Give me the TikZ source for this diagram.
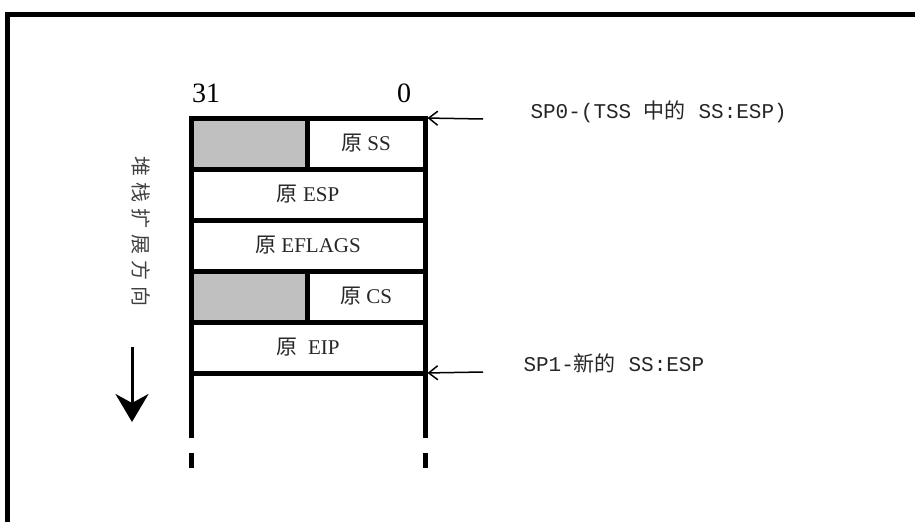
\documentclass[tikz,border=0pt]{standalone}
\usepackage{fontspec}
\setmainfont{Liberation Serif}
\setmonofont{Liberation Mono}
\newfontfamily\cjk{Noto Sans CJK SC}
\newcommand{\zh}[1]{{\cjk #1}}
\usetikzlibrary{arrows.meta}
\definecolor{padgray}{RGB}{192,192,192}

\begin{document}
\begin{tikzpicture}[x=1pt, y=-1pt,
    cell/.style={draw, line width=5pt, inner sep=0pt, outer sep=0pt, minimum height=51pt, text=black!85, font=\fontsize{21}{24}\selectfont},
    wall/.style={line width=5pt},
    ptr/.style={-{Straight Barb[length=9pt,width=14pt]}, line width=1.5pt, shorten >=2.5pt},
    growarrow/.style={-{Stealth[length=28pt,width=33pt,inset=9pt]}, line width=3pt},
    note/.style={anchor=west, text=black!85, font=\fontsize{21}{24}\selectfont\ttfamily}]
    \useasboundingbox (0,0) rectangle (915,522);
    \draw[line width=5pt] (7,522) -- (7,14) -- (915,14);

    % stack frame
    \node[cell, fill=padgray, minimum width=116pt] (pad1) at (249,143.5) {};
    \node[cell, minimum width=118pt] (ss) at (366,143.5) {\zh{原} SS};
    \node[cell, minimum width=234pt] (esp) at (308,194.5) {\zh{原} ESP};
    \node[cell, minimum width=234pt] (eflags) at (308,245.5) {\zh{原} EFLAGS};
    \node[cell, fill=padgray, minimum width=116pt] (pad2) at (249,296.5) {};
    \node[cell, minimum width=118pt] (cs) at (366,296.5) {\zh{原} CS};
    \node[cell, minimum width=234pt] (eip) at (308,347.5) {\zh{原}\ \ EIP};

    \draw[wall] (eip.south west) -- ++(0,65);
    \draw[wall] (eip.south east) -- ++(0,65);
    \draw[wall] ([yshift=-80pt]eip.south west) -- ([yshift=-95pt]eip.south west);
    \draw[wall] ([yshift=-80pt]eip.south east) -- ([yshift=-95pt]eip.south east);

    \node[font=\fontsize{28}{30}\selectfont] (msb) at (206,93) {31};
    \node[font=\fontsize{28}{30}\selectfont] (lsb) at (404,93) {0};

    % stack pointers
    \node[note] (sp0) at (527,112) {SP0-(TSS \zh{中的} SS:ESP)};
    \node[note] (sp1) at (520,363) {SP1-\zh{新的} SS:ESP};
    \coordinate (sp0tail) at (483,119);
    \coordinate (sp1tail) at (483,372);
    \draw[ptr] (sp0tail) -- (ss.north east);
    \draw[ptr] (sp1tail) -- (eip.south east);

    % growth direction
    \node[rotate=-90, text=black!75, font=\fontsize{20}{22}\selectfont\cjk] (dir) at (141,231) {堆\kern6pt 栈\kern6pt 扩\kern6pt 展\kern6pt 方\kern6pt 向};
    \coordinate (growtop) at (132,347);
    \coordinate (growtip) at (132,422);
    \draw[growarrow] (growtop) -- (growtip);
\end{tikzpicture}
\end{document}
